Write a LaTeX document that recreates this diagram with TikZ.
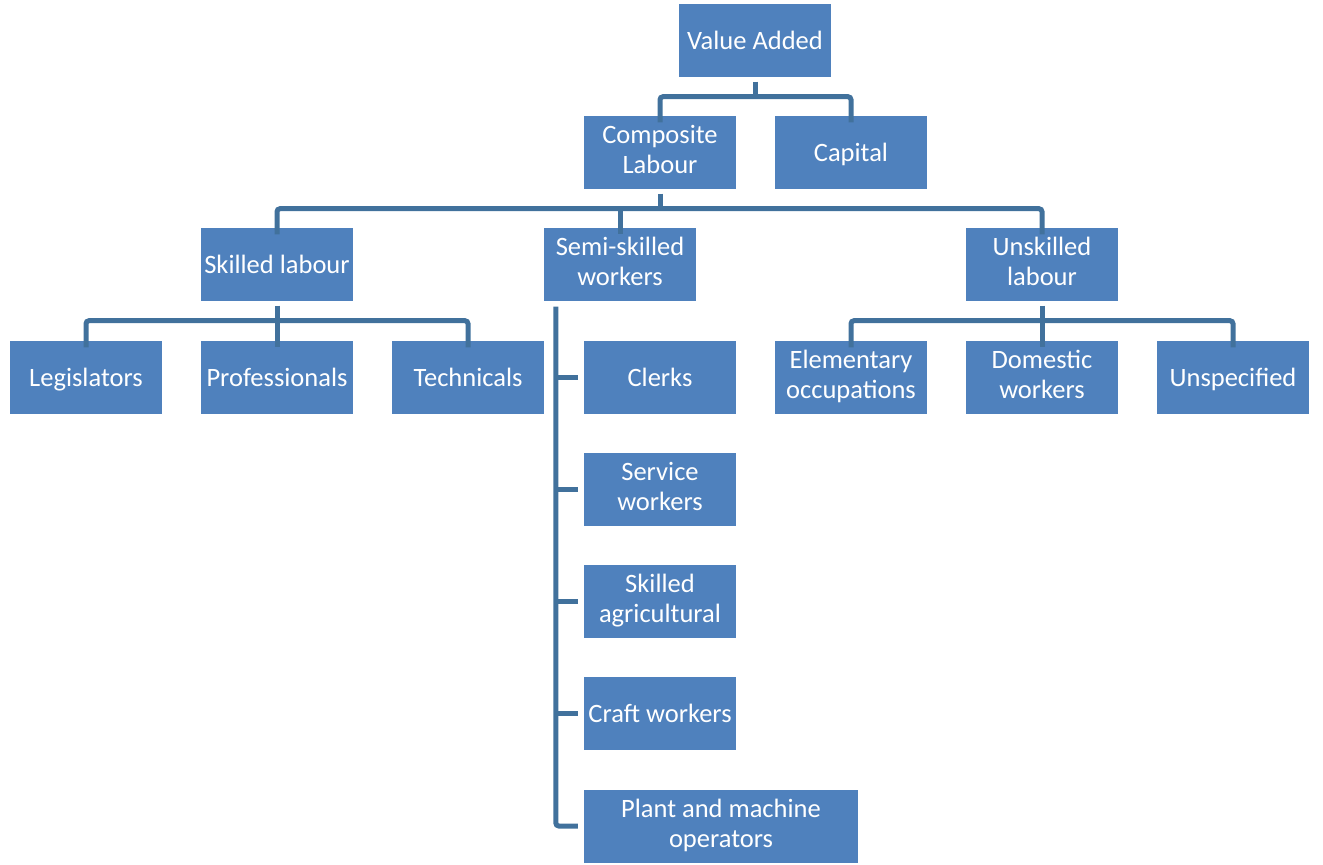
\documentclass[tikz,border=0pt]{standalone}
\usepackage{fontspec}
\setmainfont{Carlito}
\definecolor{boxfill}{HTML}{4F81BD}
\definecolor{linecol}{HTML}{41719C}
\begin{document}
\begin{tikzpicture}[x=1pt,y=-1pt,
  box/.style={draw=none,fill=boxfill,text=white,minimum width=152pt,minimum height=73pt,
    inner sep=0pt,align=center,font=\fontsize{26.5}{29.5}\selectfont,
    execute at begin node=\rule{0pt}{24pt},execute at end node=\rule[-5.2pt]{0pt}{5.2pt}},
  conn/.style={draw=linecol,line width=5pt,rounded corners=3pt}]
\useasboundingbox (0,0) rectangle (1323,865);
\node[box] (va) at (755,40) {Value Added};
\node[box] (cl) at (660,152) {Composite\\Labour};
\node[box] (cap) at (851,152) {Capital};
\node[box] (sk) at (277,264) {Skilled labour};
\node[box] (semi) at (620,264) {Semi-skilled\\workers};
\node[box] (un) at (1042,264) {Unskilled\\labour};
\node[box] (leg) at (86,377) {Legislators};
\node[box] (prof) at (277,377) {Professionals};
\node[box] (tech) at (468,377) {Technicals};
\node[box] (clerks) at (660,377) {Clerks};
\node[box] (serv) at (660,489) {Service\\workers};
\node[box] (agri) at (660,601) {Skilled\\agricultural};
\node[box] (craft) at (660,713) {Craft workers};
\node[box,minimum width=274pt] (plant) at (721,826) {Plant and machine\\operators};
\node[box] (elem) at (851,377) {Elementary\\occupations};
\node[box] (dom) at (1042,377) {Domestic\\workers};
\node[box] (unsp) at (1233,377) {Unspecified};
% Value Added
\draw[conn] ([yshift=-5pt]va.south) -- ([yshift=-20pt]va.south);
\draw[conn] ([yshift=-7pt]cl.north) |- ([yshift=-20pt]va.south) -| ([yshift=-7pt]cap.north);
% Composite labour
\draw[conn] ([yshift=-5pt]cl.south) -- ([yshift=-20pt]cl.south);
\draw[conn] ([yshift=-7pt]sk.north) |- ([yshift=-20pt]cl.south) -| ([yshift=-7pt]un.north);
\draw[conn] ([yshift=-20pt]cl.south -| semi.north) -- ([yshift=-7pt]semi.north);
% Skilled
\draw[conn] ([yshift=-5pt]sk.south) -- ([yshift=-20pt]sk.south);
\draw[conn] ([yshift=-7pt]leg.north) |- ([yshift=-20pt]sk.south) -| ([yshift=-7pt]tech.north);
\draw[conn] ([yshift=-20pt]sk.south -| prof.north) -- ([yshift=-7pt]prof.north);
% Unskilled
\draw[conn] ([yshift=-5pt]un.south) -- ([yshift=-20pt]un.south);
\draw[conn] ([yshift=-7pt]elem.north) |- ([yshift=-20pt]un.south) -| ([yshift=-7pt]unsp.north);
\draw[conn] ([yshift=-20pt]un.south -| dom.north) -- ([yshift=-7pt]dom.north);
% Semi-skilled
\coordinate (sv) at ([xshift=12pt,yshift=-6pt]semi.south west);
\draw[conn] (sv) |- ([xshift=-6pt]plant.west);
\draw[conn] (clerks.west -| sv) -- ([xshift=-6pt]clerks.west);
\draw[conn] (serv.west -| sv) -- ([xshift=-6pt]serv.west);
\draw[conn] (agri.west -| sv) -- ([xshift=-6pt]agri.west);
\draw[conn] (craft.west -| sv) -- ([xshift=-6pt]craft.west);
\end{tikzpicture}
\end{document}
